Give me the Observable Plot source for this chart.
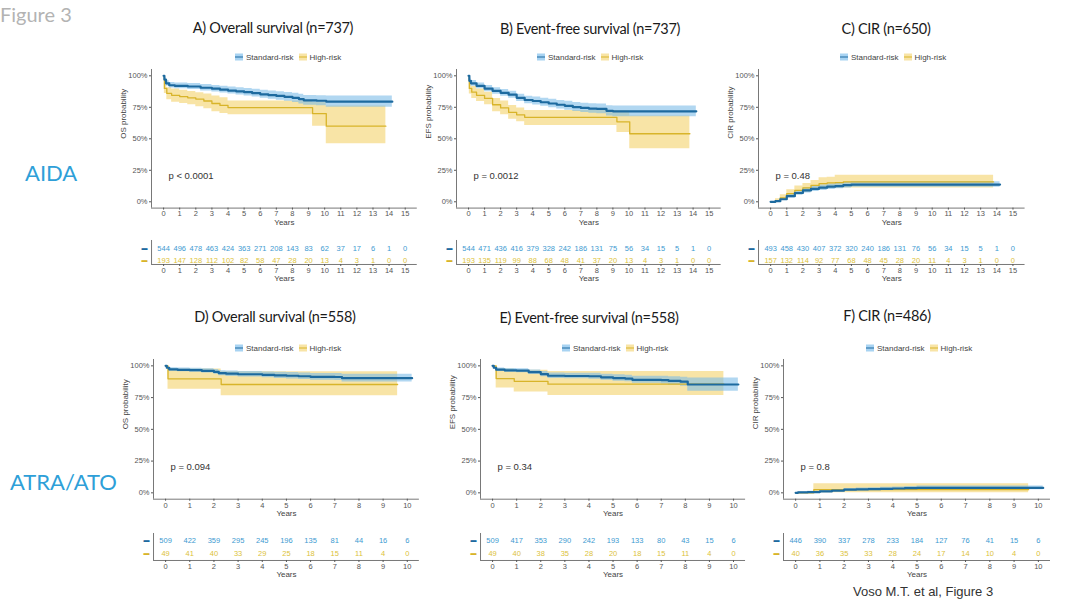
<!DOCTYPE html>
<html><head><meta charset="utf-8">
<script src="https://cdn.jsdelivr.net/npm/d3@7"></script>
<script src="https://cdn.jsdelivr.net/npm/@observablehq/plot@0.6"></script>
<style>
body{margin:0;background:#fff;}
#root{position:relative;width:1080px;height:607px;overflow:hidden;font-family:"Liberation Sans",Arial,sans-serif;}
.abs{position:absolute;white-space:nowrap;}
.title{font-family:Lato,sans-serif;font-size:14.5px;color:#1a1a1a;transform:translate(-50%,-50%);letter-spacing:-0.3px;}
.legend{display:flex;align-items:center;font-size:8px;color:#444;transform:translateY(-50%);}
.key{display:inline-block;width:8px;height:7px;position:relative;margin-right:3px;}
.key::after{content:"";position:absolute;left:0;right:0;top:3px;height:1.2px;background:var(--c);}
.side{font-family:Lato,sans-serif;font-size:22px;color:#2e9fd8;transform:translateY(-50%);}
</style></head><body><div id="root"></div>
<script>
// ---------- tick labels ----------
const yearsAIDA = [0,1,2,3,4,5,6,7,8,9,10,11,12,13,14,15];
const yearsATRA = [0,1,2,3,4,5,6,7,8,9,10];
const probTicks = [0,0.25,0.5,0.75,1];
const groups = ["Standard-risk","High-risk"];

// ---------- A) Overall survival AIDA ----------
const A_std_t  = [0,0.05,0.15,0.35,0.7,1.5,2.3,3,3.5,4,4.5,5,5.5,6,6.5,7,7.5,8,8.4,8.7,9.5,10.1,14.2];
const A_std_s  = [1.0,0.97,0.94,0.925,0.92,0.915,0.905,0.898,0.89,0.883,0.877,0.87,0.862,0.853,0.847,0.84,0.833,0.825,0.815,0.805,0.802,0.795,0.795];
const A_std_lo = [1.0,0.955,0.92,0.903,0.897,0.892,0.88,0.872,0.863,0.855,0.848,0.84,0.831,0.821,0.814,0.806,0.798,0.789,0.777,0.766,0.762,0.75,0.75];
const A_std_hi = [1.0,0.985,0.96,0.947,0.943,0.938,0.93,0.924,0.917,0.911,0.906,0.9,0.893,0.885,0.88,0.874,0.868,0.861,0.853,0.844,0.842,0.84,0.84];
const A_high_t  = [0,0.05,0.2,0.5,1,1.5,2,2.5,3,3.5,4,9.25,10.1,13.8];
const A_high_s  = [1.0,0.9,0.86,0.845,0.835,0.825,0.815,0.8,0.78,0.765,0.748,0.70,0.60,0.60];
const A_high_lo = [1.0,0.86,0.81,0.79,0.78,0.77,0.755,0.738,0.715,0.70,0.69,0.60,0.46,0.46];
const A_high_hi = [1.0,0.94,0.905,0.895,0.885,0.875,0.865,0.855,0.84,0.825,0.80,0.79,0.76,0.76];
const A_std_n  = [544,496,478,463,424,363,271,208,143,83,62,37,17,6,1,0];
const A_high_n = [193,147,128,112,102,82,58,47,28,20,13,4,3,1,0,0];

// ---------- B) Event-free survival AIDA ----------
const B_std_t  = [0,0.05,0.15,0.5,1,1.5,2,2.5,3,3.5,4,4.5,5,5.5,6,6.5,7,7.5,8,8.6,9,14.2];
const B_std_s  = [1.0,0.96,0.94,0.92,0.898,0.88,0.865,0.85,0.825,0.808,0.80,0.79,0.78,0.77,0.762,0.752,0.745,0.74,0.737,0.722,0.718,0.718];
const B_std_lo = [1.0,0.94,0.918,0.897,0.873,0.854,0.838,0.822,0.796,0.778,0.769,0.758,0.747,0.736,0.727,0.716,0.708,0.702,0.698,0.681,0.675,0.675];
const B_std_hi = [1.0,0.98,0.962,0.943,0.923,0.906,0.892,0.878,0.854,0.838,0.831,0.822,0.813,0.804,0.797,0.788,0.782,0.778,0.776,0.763,0.761,0.761];
const B_high_t  = [0,0.05,0.2,0.5,1,1.5,2,2.5,3,3.5,9.25,10.05,13.8];
const B_high_s  = [1.0,0.9,0.87,0.845,0.82,0.77,0.745,0.71,0.69,0.67,0.635,0.54,0.54];
const B_high_lo = [1.0,0.855,0.82,0.795,0.77,0.715,0.69,0.655,0.635,0.605,0.55,0.42,0.42];
const B_high_hi = [1.0,0.94,0.915,0.895,0.87,0.82,0.80,0.765,0.745,0.725,0.72,0.68,0.68];
const B_std_n  = [544,471,436,416,379,328,242,186,131,75,56,34,15,5,1,0];
const B_high_n = [193,135,119,99,88,68,48,41,37,20,13,4,3,1,0,0];

// ---------- C) CIR AIDA ----------
const C_std_t  = [0,0.3,0.6,1,1.5,2,2.5,3,3.5,4,4.5,5,14.2];
const C_std_s  = [0,0.005,0.02,0.045,0.07,0.09,0.103,0.112,0.12,0.125,0.132,0.137,0.137];
const C_std_lo = [0,0,0.01,0.03,0.052,0.07,0.082,0.09,0.098,0.103,0.11,0.115,0.115];
const C_std_hi = [0,0.01,0.03,0.06,0.088,0.11,0.124,0.134,0.142,0.147,0.154,0.159,0.159];
const C_high_t  = [0,0.3,0.6,1,1.5,2,2.5,3,3.5,4,4.5,13.8];
const C_high_s  = [0,0.01,0.03,0.065,0.09,0.11,0.13,0.145,0.15,0.152,0.158,0.158];
const C_high_lo = [0,0,0.01,0.035,0.055,0.075,0.09,0.10,0.105,0.107,0.11,0.11];
const C_high_hi = [0,0.025,0.055,0.095,0.125,0.145,0.17,0.19,0.195,0.21,0.21,0.21];
const C_std_n  = [493,458,430,407,372,320,240,186,131,76,56,34,15,5,1,0];
const C_high_n = [157,132,114,92,77,68,48,45,28,20,11,4,3,1,0,0];

// ---------- D) Overall survival ATRA/ATO ----------
const D_std_t  = [0,0.05,0.15,0.5,1,1.5,2,2.2,2.5,3,4,4.5,5,5.5,6,7,7.3,10.2];
const D_std_s  = [1.0,0.985,0.972,0.968,0.966,0.96,0.952,0.942,0.938,0.934,0.929,0.925,0.922,0.918,0.913,0.912,0.903,0.903];
const D_std_lo = [1.0,0.975,0.958,0.953,0.95,0.943,0.933,0.922,0.917,0.912,0.906,0.901,0.897,0.892,0.886,0.884,0.873,0.873];
const D_std_hi = [1.0,0.995,0.986,0.983,0.982,0.977,0.971,0.962,0.959,0.956,0.952,0.949,0.947,0.944,0.94,0.94,0.933,0.933];
const D_high_t  = [0,0.1,2.3,9.6];
const D_high_s  = [1.0,0.898,0.853,0.853];
const D_high_lo = [1.0,0.815,0.765,0.765];
const D_high_hi = [1.0,0.975,0.953,0.953];
const D_std_n  = [509,422,359,295,245,196,135,81,44,16,6];
const D_high_n = [49,41,40,33,29,25,18,15,11,4,0];

// ---------- E) Event-free survival ATRA/ATO ----------
const E_std_t  = [0,0.05,0.15,0.5,1,1.5,2,2.3,3,4,4.5,5,5.5,5.8,7,7.3,7.8,8.1,10.2];
const E_std_s  = [1.0,0.985,0.97,0.965,0.962,0.95,0.935,0.922,0.92,0.918,0.91,0.904,0.9,0.89,0.888,0.882,0.875,0.853,0.853];
const E_std_lo = [1.0,0.975,0.956,0.95,0.946,0.932,0.915,0.901,0.898,0.895,0.886,0.879,0.874,0.862,0.858,0.85,0.84,0.80,0.80];
const E_std_hi = [1.0,0.995,0.984,0.98,0.978,0.968,0.955,0.943,0.942,0.941,0.934,0.929,0.926,0.918,0.918,0.914,0.91,0.905,0.905];
const E_high_t  = [0,0.15,0.9,2.3,9.6];
const E_high_s  = [1.0,0.90,0.878,0.856,0.856];
const E_high_lo = [1.0,0.825,0.795,0.767,0.767];
const E_high_hi = [1.0,0.975,0.965,0.955,0.955];
const E_std_n  = [509,417,353,290,242,193,133,80,43,15,6];
const E_high_n = [49,40,38,35,28,20,18,15,11,4,0];

// ---------- F) CIR ATRA/ATO ----------
const F_std_t  = [0,0.1,0.5,1,1.5,2,2.5,3,3.5,4,4.5,5,10.2];
const F_std_s  = [0,0.003,0.006,0.012,0.018,0.025,0.028,0.03,0.032,0.034,0.037,0.039,0.039];
const F_std_lo = [0,0,0,0.004,0.009,0.015,0.017,0.019,0.02,0.022,0.024,0.025,0.025];
const F_std_hi = [0,0.008,0.012,0.02,0.027,0.035,0.039,0.041,0.044,0.046,0.05,0.053,0.053];
const F_high_t  = [0,0.75,9.6];
const F_high_s  = [0,0.025,0.025];
const F_high_lo = [0,0,0];
const F_high_hi = [0,0.072,0.072];
const F_std_n  = [446,390,337,278,233,184,127,76,41,15,6];
const F_high_n = [40,36,35,33,28,24,17,14,10,4,0];

// ---------- styling ----------
const COL = {
  stdLine:"#1d6a9f", stdBand:"#7dbde8", stdNum:"#3d9ad1",
  highLine:"#d8b42a", highBand:"#f3d26b", highNum:"#dcc23a",
  axis:"#555"
};
const root = document.getElementById("root");
const rows = (t,s,lo,hi) => t.map((x,i)=>({t:x, s:s[i], lo:lo[i], hi:hi[i]}));

function addDiv(cls, html, left, top, extra) {
  const d = document.createElement("div");
  d.className = "abs " + cls;
  d.innerHTML = html;
  d.style.left = left + "px"; d.style.top = top + "px";
  if (extra) Object.assign(d.style, extra);
  root.appendChild(d);
  return d;
}
function legend(left, cy) {
  addDiv("legend",
    `<span class="key" style="background:#a8d3f2;--c:${COL.stdLine}"></span><span style="margin-right:5px">${groups[0]}</span>` +
    `<span class="key" style="background:#f8e4a6;--c:${COL.highLine}"></span><span>${groups[1]}</span>`, left, cy);
}
function place(svg, left, top) {
  svg.style.position = "absolute";
  svg.style.left = left + "px"; svg.style.top = top + "px";
  svg.style.background = "transparent";
  svg.style.overflow = "visible";
  root.appendChild(svg);
}
const FONT = "Liberation Sans, Arial, sans-serif";

function kmPlot(p) {
  const mL = 50, mR = 8, mT = 10, mB = 26;
  const xmax = p.years[p.years.length-1];
  const exp = xmax * 0.05;
  const std = rows(p.st, p.ss, p.slo, p.shi), high = rows(p.ht, p.hs, p.hlo, p.hhi);
  const svg = Plot.plot({
    width: p.fr - p.fl + mL + mR, height: p.fb - p.ft + mT + mB,
    marginLeft: mL, marginRight: mR, marginTop: mT, marginBottom: mB,
    style: {fontFamily: FONT, fontSize: "7.5px", color: COL.axis},
    x: {domain: [-exp, xmax + exp]},
    y: {domain: [-0.05, 1.05]},
    marks: [
      Plot.areaY(high, {x:"t", y1:"lo", y2:"hi", curve:"step-after", fill: COL.highBand, fillOpacity: 0.6}),
      Plot.areaY(std,  {x:"t", y1:"lo", y2:"hi", curve:"step-after", fill: COL.stdBand, fillOpacity: 0.6}),
      Plot.line(high, {x:"t", y:"s", curve:"step-after", stroke: COL.highLine, strokeWidth: 1.3}),
      Plot.line(std,  {x:"t", y:"s", curve:"step-after", stroke: COL.stdLine, strokeWidth: 2.2}),
      Plot.ruleX([-exp], {stroke: COL.axis, strokeWidth: 0.8}),
      Plot.ruleY([-0.05], {stroke: COL.axis, strokeWidth: 0.8}),
      Plot.axisX({ticks: p.years, tickSize: 2, tickPadding: 1, label: null, tickFormat: d => d}),
      Plot.axisY({ticks: probTicks, tickSize: 2, tickPadding: 2, label: null, tickFormat: d => Math.round(d*100) + "%"}),
      Plot.text(["Years"], {text: d => d, frameAnchor: "bottom", dy: 14, lineAnchor: "middle", fontSize: 8, fill: "#444"}),
      Plot.text([p.ylab], {text: d => d, frameAnchor: "left", dx: -28, rotate: -90, lineAnchor: "middle", fontSize: 8, fill: "#444"}),
      Plot.text([p.pval], {text: d => d, frameAnchor: "bottom-left", dx: 17, dy: -32, textAnchor: "start", lineAnchor: "middle", fontSize: 9.5, fill: "#333"})
    ]
  });
  place(svg, p.fl - mL, p.ft - mT);
}

function riskTable(p) {
  const mL = 50, mR = 8, mT = 4, mB = 24;
  const xmax = p.years[p.years.length-1];
  const exp = xmax * 0.05;
  const data = [
    ...p.years.map((y,i)=>({x:y, g:groups[0], n:p.sn[i]})),
    ...p.years.map((y,i)=>({x:y, g:groups[1], n:p.hn[i]}))
  ];
  const top = p.ft - mT;
  const svg = Plot.plot({
    width: p.fr - p.fl + mL + mR, height: p.fb - p.ft + mT + mB,
    marginLeft: mL, marginRight: mR, marginTop: mT, marginBottom: mB,
    style: {fontFamily: FONT, fontSize: "7.5px", color: COL.axis},
    x: {domain: [-exp, xmax + exp]},
    y: {type: "point", domain: groups, range: [p.r1 - top, p.r2 - top], padding: 0, axis: null},
    marks: [
      Plot.ruleX([-exp], {stroke: COL.axis, strokeWidth: 0.8}),
      Plot.ruleY([groups[1]], {dy: p.fb - p.r2, stroke: COL.axis, strokeWidth: 0.8}),
      Plot.text(data, {x:"x", y:"g", text: d => d.n, fill: d => d.g === groups[0] ? COL.stdNum : COL.highNum, fontSize: 7.5}),
      Plot.text(groups, {x: () => -exp, y: d => d, text: () => "▬", dx: -7, fontSize: 6, fill: d => d === groups[0] ? COL.stdLine : COL.highLine}),
      Plot.axisX({ticks: p.years, tickSize: 2, tickPadding: 1, label: null, tickFormat: d => d}),
      Plot.text(["Years"], {text: d => d, frameAnchor: "bottom", dy: 14, lineAnchor: "middle", fontSize: 8, fill: "#444"})
    ]
  });
  place(svg, p.fl - mL, top);
}

// ---------- layout ----------
const panels = [
  {title:"A) Overall survival (n=737)", tx:273, ty:27, lx:235, ly:57, years:yearsAIDA, ylab:"OS probability", pval:"p < 0.0001",
   fl:151.2, fr:417, ft:68.7, fb:207.3, rt:240, rb:264, r1:248, r2:260,
   st:A_std_t, ss:A_std_s, slo:A_std_lo, shi:A_std_hi, ht:A_high_t, hs:A_high_s, hlo:A_high_lo, hhi:A_high_hi, sn:A_std_n, hn:A_high_n},
  {title:"B) Event-free survival (n=737)", tx:590, ty:28, lx:537, ly:57, years:yearsAIDA, ylab:"EFS probability", pval:"p = 0.0012",
   fl:455.7, fr:720.4, ft:68.7, fb:207.3, rt:240, rb:264, r1:248, r2:260,
   st:B_std_t, ss:B_std_s, slo:B_std_lo, shi:B_std_hi, ht:B_high_t, hs:B_high_s, hlo:B_high_lo, hhi:B_high_hi, sn:B_std_n, hn:B_high_n},
  {title:"C) CIR (n=650)", tx:886, ty:28, lx:840, ly:57, years:yearsAIDA, ylab:"CIR probability", pval:"p = 0.48",
   fl:757.9, fr:1024.5, ft:68.7, fb:207.3, rt:240, rb:264, r1:248, r2:260,
   st:C_std_t, ss:C_std_s, slo:C_std_lo, shi:C_std_hi, ht:C_high_t, hs:C_high_s, hlo:C_high_lo, hhi:C_high_hi, sn:C_std_n, hn:C_high_n},
  {title:"D) Overall survival (n=558)", tx:275, ty:316, lx:235, ly:348, years:yearsATRA, ylab:"OS probability", pval:"p = 0.094",
   fl:152.9, fr:418.8, ft:359.3, fb:499, rt:533, rb:560, r1:540, r2:553,
   st:D_std_t, ss:D_std_s, slo:D_std_lo, shi:D_std_hi, ht:D_high_t, hs:D_high_s, hlo:D_high_lo, hhi:D_high_hi, sn:D_std_n, hn:D_high_n},
  {title:"E) Event-free survival (n=558)", tx:589, ty:317, lx:562, ly:348, years:yearsATRA, ylab:"EFS probability", pval:"p = 0.34",
   fl:480.3, fr:745.4, ft:359.3, fb:499, rt:533, rb:560, r1:540, r2:553,
   st:E_std_t, ss:E_std_s, slo:E_std_lo, shi:E_std_hi, ht:E_high_t, hs:E_high_s, hlo:E_high_lo, hhi:E_high_hi, sn:E_std_n, hn:E_high_n},
  {title:"F) CIR (n=486)", tx:887, ty:315, lx:866, ly:348, years:yearsATRA, ylab:"CIR probability", pval:"p = 0.8",
   fl:782.9, fr:1049.9, ft:359.3, fb:499, rt:533, rb:560, r1:540, r2:553,
   st:F_std_t, ss:F_std_s, slo:F_std_lo, shi:F_std_hi, ht:F_high_t, hs:F_high_s, hlo:F_high_lo, hhi:F_high_hi, sn:F_std_n, hn:F_high_n}
];

addDiv("", "Figure 3", 0, 14, {fontFamily:"Lato,sans-serif", fontSize:"20px", color:"#b3b3b3", transform:"translateY(-50%)"});
addDiv("side", "AIDA", 25, 172);
addDiv("side", "ATRA/ATO", 10, 481);
addDiv("", "Voso M.T. et al, Figure 3", 853, 591, {fontSize:"13px", color:"#333", transform:"translateY(-50%)"});

for (const p of panels) {
  addDiv("title", p.title, p.tx, p.ty);
  legend(p.lx, p.ly);
  kmPlot(p);
  riskTable({years:p.years, fl:p.fl, fr:p.fr, ft:p.rt, fb:p.rb, r1:p.r1, r2:p.r2, sn:p.sn, hn:p.hn});
}
</script></body></html>
